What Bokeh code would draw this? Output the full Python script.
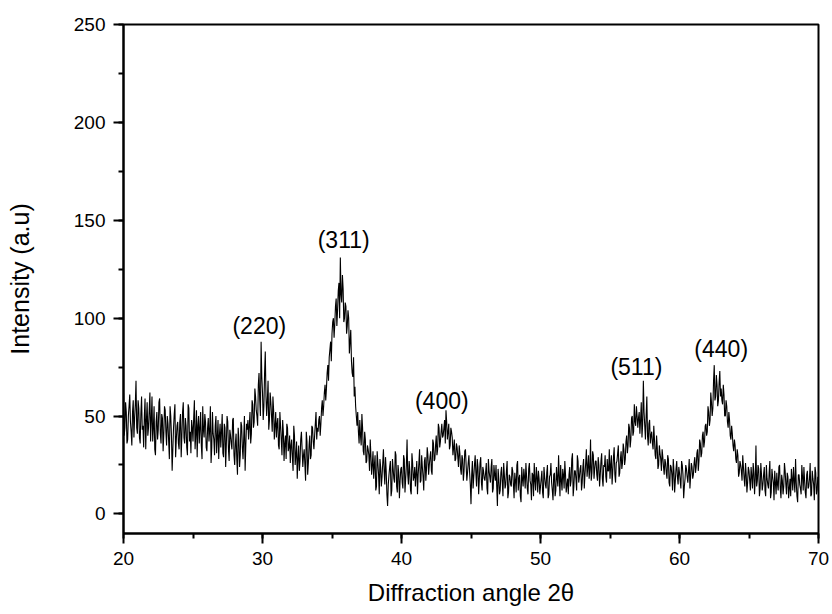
from bokeh.plotting import figure
from bokeh.models import SingleIntervalTicker, Range1d, ColumnDataSource
from bokeh.embed import file_html
from bokeh.resources import INLINE
from bokeh.core.properties import value

# XRD intensities, one row per degree.
# intensity: readings at 20.0, 20.1, ... 70.0
intensity = [
    62, 44, 52, 38, 55, 47, 35, 58, 49, 68,   # 20
    41, 54, 36, 60, 45, 50, 33, 57, 44, 62,   # 21
    48, 37, 55, 30, 52, 43, 59, 36, 49, 41,   # 22
    53, 35, 46, 28, 50, 22, 44, 56, 38, 47,   # 23
    33, 51, 40, 57, 36, 45, 30, 54, 42, 48,   # 24
    37, 58, 41, 29, 50, 44, 35, 55, 39, 47,   # 25
    32, 49, 43, 26, 52, 38, 45, 31, 48, 40,   # 26
    34, 51, 29, 44, 36, 47, 27, 40, 33, 49,   # 27
    25, 41, 20, 38, 30, 45, 28, 50, 35, 43,   # 28
    38, 52, 41, 56, 47, 60, 50, 66, 58, 88,   # 29
    62, 55, 83, 50, 68, 48, 57, 42, 53, 45,   # 30
    39, 49, 33, 45, 30, 42, 36, 28, 44, 34,   # 31
    26, 38, 22, 40, 30, 18, 35, 27, 42, 24,   # 32
    33, 17, 37, 26, 40, 30, 44, 33, 46, 38,   # 33
    42, 50, 46, 58, 55, 66, 64, 76, 80, 88,   # 34
    92, 100, 97, 110, 104, 118, 131, 108, 115, 100,  # 35
    106, 96, 100, 88, 78, 70, 60, 55, 45, 42,  # 36
    48, 35, 44, 30, 38, 27, 33, 22, 30, 25,   # 37
    18, 30, 14, 26, 10, 24, 19, 33, 15, 22,   # 38
    4, 20, 27, 12, 23, 16, 30, 11, 21, 17,    # 39
    24, 13, 28, 18, 38, 15, 22, 10, 26, 19,   # 40
    14, 27, 20, 33, 17, 24, 12, 29, 23, 30,   # 41
    25, 32, 20, 36, 28, 40, 33, 44, 37, 46,   # 42
    40, 48, 53, 38, 46, 35, 42, 30, 38, 28,   # 43
    34, 24, 31, 20, 28, 22, 33, 17, 26, 21,   # 44
    5, 27, 19, 30, 14, 24, 18, 29, 12, 22,    # 45
    17, 26, 10, 22, 16, 28, 13, 20, 25, 4,    # 46
    18, 12, 24, 9, 20, 15, 27, 11, 19, 14,    # 47
    22, 8, 17, 25, 12, 20, 6, 18, 23, 13,     # 48
    19, 10, 26, 15, 21, 9, 17, 24, 11, 18,    # 49
    14, 22, 8, 19, 13, 25, 10, 20, 16, 7,     # 50
    21, 12, 18, 30, 9, 17, 23, 13, 20, 15,    # 51
    10, 24, 17, 31, 14, 22, 12, 27, 19, 25,   # 52
    16, 28, 20, 33, 24, 18, 38, 21, 30, 23,   # 53
    27, 17, 25, 20, 31, 14, 24, 19, 28, 22,   # 54
    18, 30, 22, 34, 16, 27, 35, 21, 32, 26,   # 55
    33, 28, 40, 35, 44, 38, 50, 42, 47, 55,   # 56
    44, 52, 48, 39, 68, 45, 50, 40, 46, 36,   # 57
    42, 33, 38, 28, 34, 25, 31, 22, 29, 20,   # 58
    26, 18, 28, 14, 24, 12, 22, 17, 27, 15,   # 59
    21, 13, 25, 8, 18, 23, 16, 28, 19, 24,    # 60
    20, 29, 24, 33, 27, 36, 31, 42, 37, 46,   # 61
    42, 52, 48, 57, 54, 76, 60, 66, 58, 73,   # 62
    64, 56, 61, 50, 55, 44, 48, 38, 41, 32,   # 63
    35, 26, 30, 21, 25, 17, 24, 14, 20, 16,   # 64
    22, 12, 19, 26, 10, 35, 17, 23, 13, 20,   # 65
    15, 24, 9, 18, 13, 27, 11, 19, 7, 16,     # 66
    21, 12, 25, 8, 17, 14, 22, 10, 19, 13,    # 67
    9, 18, 24, 11, 16, 6, 20, 13, 25, 12,     # 68
    17, 8, 22, 14, 26, 10, 18, 7, 21, 12,     # 69
    15,                                       # 70
]
# intensity_mid: readings at 20.05, 20.15, ... 69.95
intensity_mid = [
    40, 57, 36, 50, 61, 42, 52, 39, 56, 44,   # 20
    58, 39, 51, 43, 34, 59, 48, 40, 53, 37,   # 21
    60, 44, 33, 47, 38, 57, 41, 51, 32, 55,   # 22
    42, 50, 37, 55, 40, 33, 51, 29, 45, 36,   # 23
    47, 29, 52, 39, 49, 34, 56, 37, 31, 44,   # 24
    49, 33, 53, 45, 36, 52, 28, 43, 51, 34,   # 25
    44, 37, 55, 34, 41, 30, 50, 39, 28, 46,   # 26
    42, 31, 46, 24, 50, 33, 43, 36, 48, 30,   # 27
    36, 28, 44, 24, 47, 34, 39, 22, 46, 48,   # 28
    45, 36, 58, 44, 64, 53, 45, 72, 50, 70,   # 29
    48, 72, 60, 58, 43, 62, 50, 60, 38, 52,   # 30
    46, 35, 52, 38, 48, 27, 40, 46, 32, 40,   # 31
    35, 29, 45, 25, 37, 28, 22, 38, 33, 30,   # 32
    25, 42, 20, 35, 28, 45, 37, 40, 52, 44,   # 33
    48, 40, 54, 50, 62, 58, 72, 68, 84, 78,   # 34
    98, 90, 106, 96, 114, 100, 112, 122, 98, 108,  # 35
    92, 104, 82, 94, 72, 80, 65, 50, 52, 36,  # 36
    40, 51, 32, 42, 26, 35, 30, 38, 20, 32,   # 37
    25, 12, 32, 20, 28, 14, 26, 22, 29, 10,   # 38
    15, 24, 9, 28, 18, 32, 14, 25, 8, 23,     # 39
    16, 30, 11, 25, 20, 27, 12, 31, 17, 24,   # 40
    21, 10, 26, 16, 30, 19, 27, 17, 34, 20,   # 41
    29, 22, 38, 27, 35, 30, 46, 34, 42, 39,   # 42
    44, 36, 47, 42, 33, 44, 39, 34, 27, 36,   # 43
    29, 35, 23, 30, 17, 32, 25, 21, 30, 15,   # 44
    20, 13, 25, 21, 28, 10, 26, 16, 24, 18,   # 45
    21, 13, 28, 19, 24, 11, 25, 17, 14, 23,   # 46
    10, 21, 16, 26, 13, 22, 8, 20, 15, 24,    # 47
    15, 21, 11, 27, 18, 9, 24, 14, 19, 26,    # 48
    13, 23, 17, 7, 20, 26, 12, 19, 22, 10,    # 49
    18, 11, 24, 15, 21, 8, 19, 26, 12, 20,    # 50
    9, 24, 14, 19, 25, 12, 20, 27, 11, 18,    # 51
    20, 14, 28, 9, 22, 18, 30, 16, 23, 12,    # 52
    24, 13, 26, 19, 30, 23, 17, 32, 18, 27,   # 53
    20, 29, 14, 27, 18, 25, 30, 16, 22, 33,   # 54
    25, 15, 29, 20, 26, 31, 19, 28, 23, 36,   # 55
    25, 37, 31, 46, 34, 49, 40, 56, 45, 50,   # 56
    49, 41, 57, 46, 52, 38, 60, 35, 48, 40,   # 57
    36, 45, 30, 40, 23, 35, 28, 33, 24, 28,   # 58
    21, 30, 16, 25, 20, 28, 11, 23, 19, 24,   # 59
    17, 27, 20, 14, 25, 19, 22, 13, 26, 18,   # 60
    26, 21, 31, 22, 38, 29, 40, 34, 45, 40,   # 61
    55, 45, 62, 50, 68, 58, 71, 55, 67, 60,   # 62
    58, 66, 50, 58, 47, 52, 40, 45, 35, 38,   # 63
    28, 33, 19, 27, 22, 30, 18, 26, 11, 24,   # 64
    17, 24, 13, 21, 18, 14, 25, 9, 26, 12,    # 65
    20, 12, 25, 15, 21, 8, 23, 16, 22, 10,    # 66
    15, 24, 13, 20, 10, 26, 15, 21, 8, 18,    # 67
    23, 12, 17, 28, 9, 20, 15, 10, 19, 24,    # 68
    11, 20, 13, 18, 9, 22, 15, 24, 10, 19,    # 69
]
scan_start = 20.0
scan_step = 0.1

# merge both readings into one scan ordered by angle
two_theta, counts = [], []
for i, v in enumerate(intensity):
    two_theta.append(round(scan_start + scan_step * i, 2))
    counts.append(v)
    if i < len(intensity_mid):
        two_theta.append(round(scan_start + scan_step * i + scan_step / 2, 3))
        counts.append(intensity_mid[i])

peak_labels = ["(220)", "(311)", "(400)", "(511)", "(440)"]
peak_label_x = [29.77, 35.84, 42.9, 56.9, 63.0]
peak_label_y = [95.8, 140.0, 57.9, 74.9, 84.3]

x_ticks_interval = 10
y_ticks_interval = 50

FONT = "Liberation Sans"

p = figure(width=830, height=610, output_backend="svg", toolbar_location=None,
           x_range=Range1d(20, 70), y_range=Range1d(-10, 250),
           min_border_left=123, min_border_right=12, min_border_top=24, min_border_bottom=77,
           background_fill_color="white", border_fill_color="white")

p.line(two_theta, counts, line_color="black", line_width=1.1)

src = ColumnDataSource(dict(x=peak_label_x, y=peak_label_y, t=peak_labels))
p.text(x="x", y="y", text="t", source=src, text_font=value(FONT), text_font_size="23px",
       text_align="center", text_baseline="alphabetic", text_color="black")

p.xgrid.visible = False
p.ygrid.visible = False
p.outline_line_color = "black"
p.outline_line_width = 2
p.outline_line_alpha = 1

p.xaxis.ticker = SingleIntervalTicker(interval=x_ticks_interval, num_minor_ticks=2)
p.yaxis.ticker = SingleIntervalTicker(interval=y_ticks_interval, num_minor_ticks=2)

for ax in (p.xaxis[0], p.yaxis[0]):
    ax.axis_line_width = 2
    ax.axis_line_color = "black"
    ax.major_tick_line_width = 2
    ax.minor_tick_line_width = 2
    ax.major_tick_in = 0
    ax.major_tick_out = 10
    ax.minor_tick_in = 0
    ax.minor_tick_out = 5
    ax.major_label_text_font = FONT
    ax.major_label_text_font_size = "19px"
    ax.major_label_text_color = "black"
    ax.axis_label_text_font = FONT
    ax.axis_label_text_font_style = "normal"
    ax.axis_label_text_color = "black"
    ax.major_label_standoff = 8

p.xaxis.axis_label = "Diffraction angle 2θ"
p.yaxis.axis_label = "Intensity (a.u)"
p.xaxis.axis_label_text_font_size = "24px"
p.yaxis.axis_label_text_font_size = "25px"
p.xaxis.axis_label_standoff = 11
p.yaxis.axis_label_standoff = 37

open("out.html", "w").write(file_html(p, INLINE))
